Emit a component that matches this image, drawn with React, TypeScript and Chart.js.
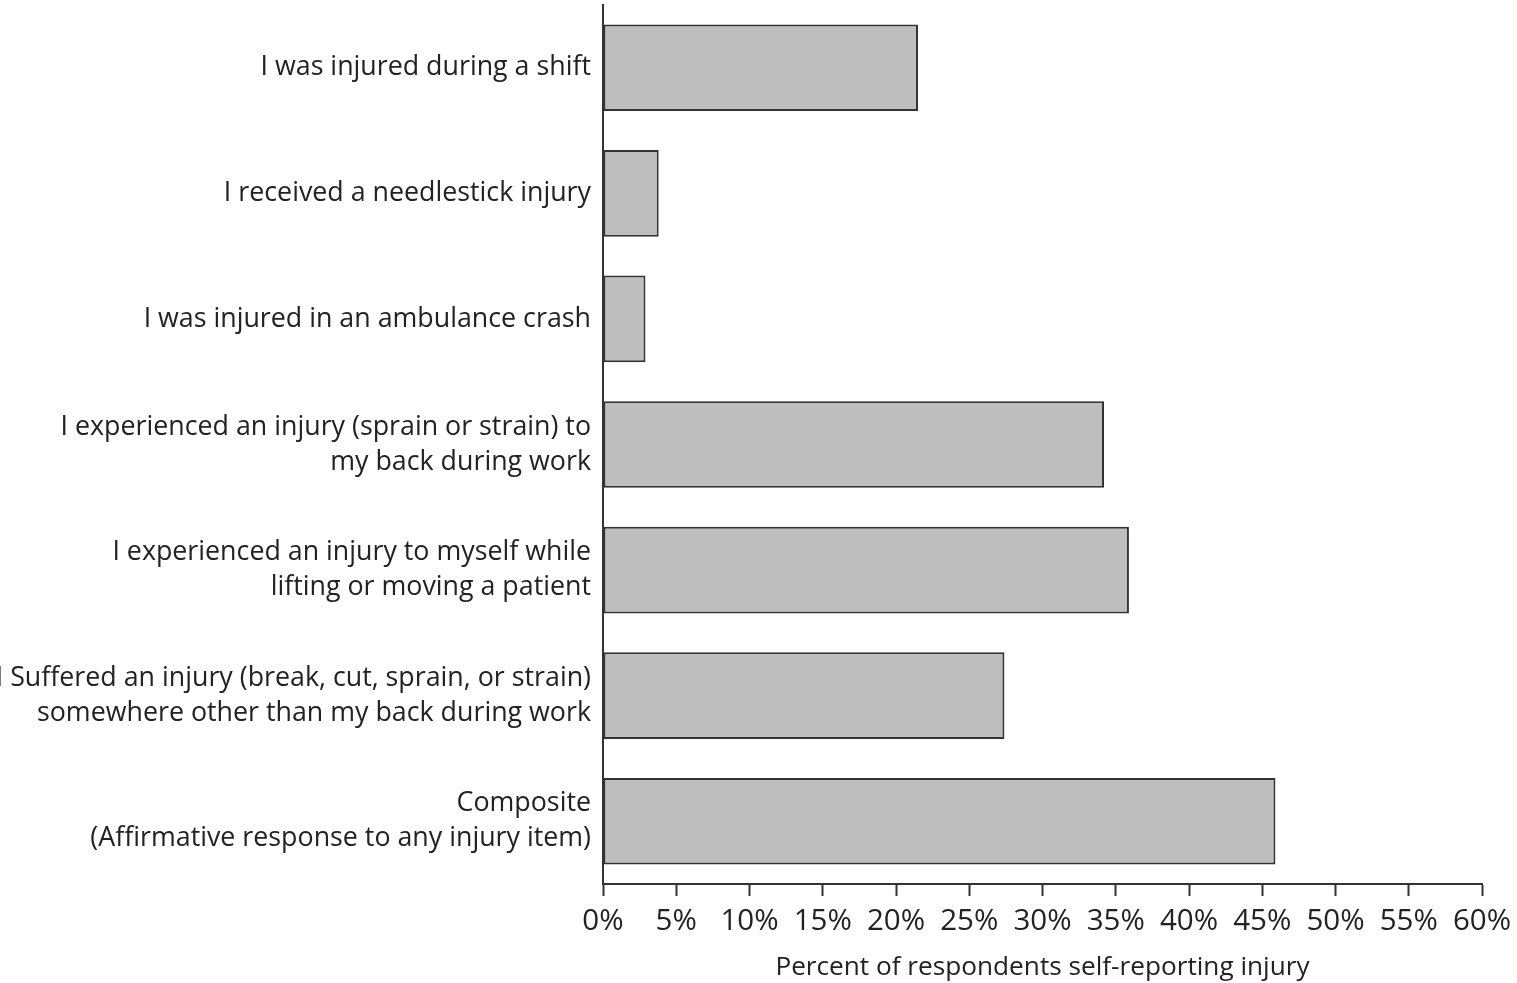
import React, { useEffect, useRef } from "react";
import { Chart, registerables } from "chart.js";

Chart.register(...registerables);

const categories: (string | string[])[] = [
  "I was injured during a shift",
  "I received a needlestick injury",
  "I was injured in an ambulance crash",
  ["I experienced an injury (sprain or strain) to", "my back during work"],
  ["I experienced an injury to myself while", "lifting or moving a patient"],
  ["I Suffered an injury (break, cut, sprain, or strain)", "somewhere other than my back during work"],
  ["Composite", "(Affirmative response to any injury item)"],
];

const percentValues: number[] = [21.5, 3.8, 2.9, 34.2, 35.9, 27.4, 45.9];

const xMin = 0;
const xMax = 60;
const xStep = 5;
const xTitle = "Percent of respondents self-reporting injury";

const FONT = "'Open Sans', 'Noto Sans', sans-serif";

export default function App() {
  const ref = useRef<HTMLCanvasElement | null>(null);

  useEffect(() => {
    if (!ref.current) return;
    const chart = new Chart(ref.current, {
      type: "bar",
      data: {
        labels: categories as any,
        datasets: [
          {
            data: percentValues,
            backgroundColor: "#bebebe",
            borderColor: "#333333",
            borderWidth: 2,
            borderSkipped: false,
            barPercentage: 0.69,
            categoryPercentage: 1,
          },
        ],
      },
      options: {
        indexAxis: "y",
        animation: false,
        responsive: false,
        maintainAspectRatio: false,
        layout: { padding: { top: 5, right: 35, left: 0, bottom: 0 } },
        plugins: { legend: { display: false }, tooltip: { enabled: false } },
        scales: {
          x: {
            type: "linear",
            min: xMin,
            max: xMax,
            afterFit: (s: any) => {
              s.height = 99;
              s.paddingLeft = 0;
              s.paddingRight = 0;
            },
            ticks: {
              stepSize: xStep,
              color: "#222",
              font: { family: FONT, size: 29.5 },
              padding: 8,
              callback: (v: any) => v + "%",
              maxRotation: 0,
              autoSkip: false,
            },
            grid: {
              drawOnChartArea: false,
              drawTicks: true,
              tickLength: 12,
              tickColor: "#333",
              tickWidth: 2,
            },
            border: { display: true, color: "#333", width: 2 },
            title: {
              display: true,
              text: xTitle,
              color: "#222",
              font: { family: FONT, size: 26.2 },
              padding: { top: 0, bottom: 0 },
            },
          },
          y: {
            type: "category",
            afterFit: (s: any) => {
              s.width = 603;
              s.paddingTop = 0;
              s.paddingBottom = 0;
            },
            ticks: {
              color: "#222",
              font: { family: FONT, size: 26.8, lineHeight: 1.3 },
              padding: 12,
              autoSkip: false,
            },
            grid: { display: false, drawTicks: false },
            border: { display: true, color: "#333", width: 2 },
          },
        },
      },
    });
    return () => chart.destroy();
  }, []);

  return (
    <div style={{ position: "fixed", left: 0, top: 0, width: 1517, height: 983, background: "#fff" }}>
      <canvas ref={ref} width={1517} height={983} style={{ width: 1517, height: 983 }} />
    </div>
  );
}
